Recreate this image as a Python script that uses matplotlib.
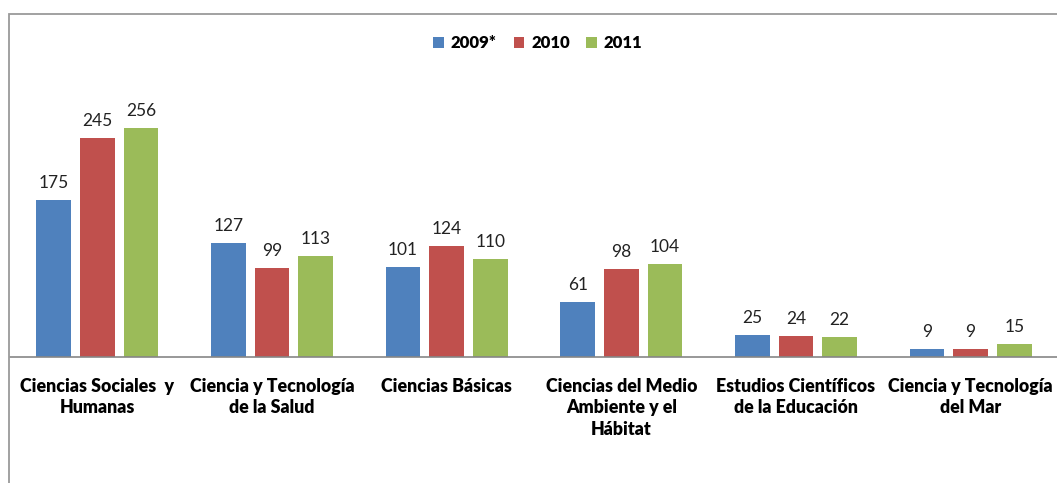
import matplotlib.pyplot as plt
import numpy as np
from matplotlib.patches import Rectangle

plt.rcParams['font.family'] = ['Lato', 'DejaVu Sans']

# datos
categorias = ['Ciencias Sociales  y\nHumanas', 'Ciencia y Tecnología\nde la Salud', 'Ciencias Básicas',
              'Ciencias del Medio\nAmbiente y el\nHábitat', 'Estudios Científicos\nde la Educación',
              'Ciencia y Tecnología\ndel Mar']
anios = ['2009*', '2010', '2011']
v2009 = [175, 127, 101, 61, 25, 9]
v2010 = [245, 99, 124, 98, 24, 9]
v2011 = [256, 113, 110, 104, 22, 15]
colores = ['#4F81BD', '#C0504D', '#9BBB59']

W, H = 1057, 483
fig = plt.figure(figsize=(W / 100, H / 100), dpi=100)
ax = fig.add_axes([10 / W, (H - 357) / H, 1048 / W, 268.4 / H])

x = np.arange(len(categorias))
for i, (serie, nombre) in enumerate(zip([v2009, v2010, v2011], anios)):
    bars = ax.bar(x + (i - 1) * 0.25, serie, width=0.2, color=colores[i], label=nombre, zorder=2)
    for b in bars:
        ax.text(b.get_x() + b.get_width() / 2, b.get_height() + 10, str(int(b.get_height())),
                ha='center', va='bottom', fontsize=12.5, color='#222222')

ax.set_xlim(-0.5, len(categorias) - 0.5)
ax.set_ylim(0, 300)
ax.set_yticks([])
ax.set_xticks(x)
ax.set_xticklabels(categorias, fontsize=12.8, fontweight='heavy', linespacing=1.32)
ax.tick_params(axis='x', length=0, pad=15)
for s in ['top', 'right', 'left']:
    ax.spines[s].set_visible(False)
ax.spines['bottom'].set_color('#868686')
ax.spines['bottom'].set_linewidth(1.2)

# marco exterior
fig.patches.append(Rectangle((9 / W, -0.1), 1.2, 1.1 - 14 / H, transform=fig.transFigure,
                             fill=False, edgecolor='#9a9a9a', linewidth=1.3))

ax.legend(loc='center', bbox_to_anchor=(538 / W, 1 - 43 / H), bbox_transform=fig.transFigure,
          ncol=3, frameon=False, handlelength=0.65, handleheight=0.65, columnspacing=1.0,
          handletextpad=0.4, prop={'weight': 'heavy', 'size': 12})

fig.savefig('out.png', dpi=100)
